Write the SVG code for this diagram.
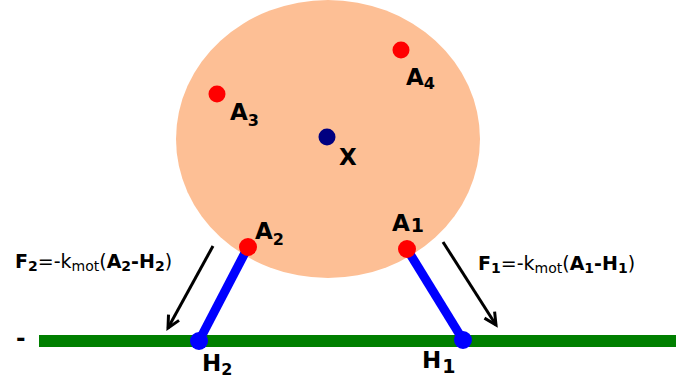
<svg xmlns="http://www.w3.org/2000/svg" width="676" height="387" viewBox="0 0 676 387">
<style>
.lbl{font-family:"DejaVu Sans",sans-serif;font-weight:bold;font-size:23px;fill:#000}
.sub{font-size:16px}
.eq{font-family:"DejaVu Sans",sans-serif;font-size:19px;fill:#000}
.b{font-weight:bold}
.s{font-size:14px}
.arrow{stroke:#000;stroke-width:3;fill:none;marker-end:url(#ah)}
.red{fill:#ff0000}
.blue{fill:#0000ff}
</style>
<defs>
<marker id="ah" markerUnits="userSpaceOnUse" markerWidth="20" markerHeight="20" refX="0" refY="0" viewBox="-14 -10 20 20" orient="auto" overflow="visible">
<path d="M-12,-6 L0,0 L-12,6" stroke="#000" stroke-width="3" fill="none" stroke-linecap="butt"/>
</marker>
</defs>
<rect width="676" height="387" fill="#fff"/>
<g id="body">
<ellipse cx="328" cy="139" rx="152" ry="139" fill="#fdbf95"/>
</g>
<g id="ground">
<rect x="39" y="335" width="637" height="12" fill="#007f00"/>
<text class="lbl" x="16" y="346">-</text>
</g>
<g id="connectors">
<line x1="248" y1="247" x2="199" y2="341" stroke="#0000ff" stroke-width="9"/>
<line x1="407" y1="249" x2="463" y2="340" stroke="#0000ff" stroke-width="9"/>
<line class="arrow" x1="213" y1="246" x2="168" y2="328"/>
<line class="arrow" x1="443" y1="242" x2="496" y2="325"/>
</g>
<g id="X">
<circle cx="327" cy="137" r="8.5" fill="#000080"/>
<text class="lbl" x="339" y="165">X</text>
</g>
<g id="A3">
<circle class="red" cx="217" cy="94" r="8.5"/>
<text class="lbl" x="230" y="120">A<tspan class="sub" dy="6">3</tspan></text>
</g>
<g id="A4">
<circle class="red" cx="401" cy="50" r="8.5"/>
<text class="lbl" x="406" y="85">A<tspan class="sub" dy="4">4</tspan></text>
</g>
<g id="A2">
<circle class="red" cx="248" cy="247" r="9"/>
<text class="lbl" x="255" y="239">A<tspan class="sub" dy="6">2</tspan></text>
</g>
<g id="A1">
<circle class="red" cx="407" cy="249" r="9"/>
<text class="lbl" x="392" y="231">A<tspan class="sub" dx="1" dy="1" style="font-size:19px">1</tspan></text>
</g>
<g id="H2">
<circle class="blue" cx="199" cy="341" r="9"/>
<text class="lbl" x="202" y="371">H<tspan class="sub" dy="4">2</tspan></text>
</g>
<g id="H1">
<circle class="blue" cx="463" cy="340" r="9"/>
<text class="lbl" x="422" y="368">H<tspan class="sub" dx="1" dy="5" style="font-size:19px">1</tspan></text>
</g>
<g id="F2">
<text class="eq" x="15" y="268"><tspan class="b">F</tspan><tspan class="b s" dy="3">2</tspan><tspan dy="-3">=-k</tspan><tspan class="s" dy="3">mot</tspan><tspan dy="-3">(</tspan><tspan class="b">A</tspan><tspan class="b s" dy="3">2</tspan><tspan class="b" dy="-3">-H</tspan><tspan class="b s" dy="3">2</tspan><tspan dy="-3">)</tspan></text>
</g>
<g id="F1">
<text class="eq" x="478" y="270"><tspan class="b">F</tspan><tspan class="b s" dy="3">1</tspan><tspan dy="-3">=-k</tspan><tspan class="s" dy="3">mot</tspan><tspan dy="-3">(</tspan><tspan class="b">A</tspan><tspan class="b s" dy="3">1</tspan><tspan class="b" dy="-3">-H</tspan><tspan class="b s" dy="3">1</tspan><tspan dy="-3">)</tspan></text>
</g>
</svg>
